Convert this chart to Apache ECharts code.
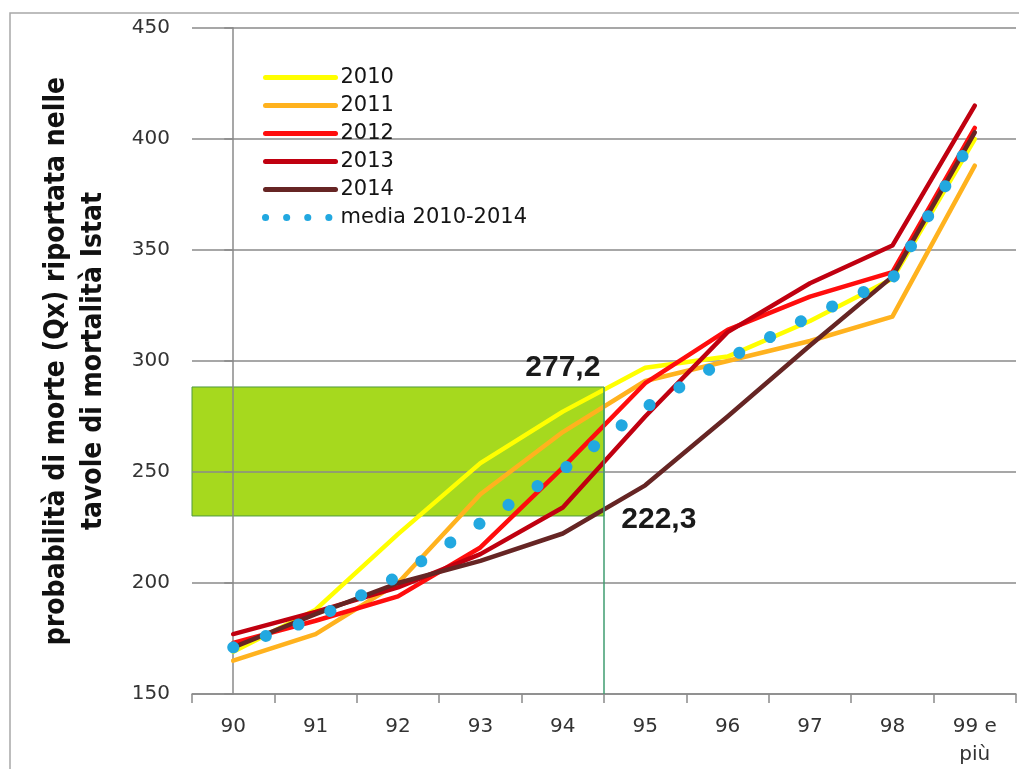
<!DOCTYPE html>
<html>
<head>
<meta charset="utf-8">
<script src="https://cdn.jsdelivr.net/npm/echarts@6/dist/echarts.min.js"></script>
<style>
  html, body { margin: 0; padding: 0; background: #ffffff; }
  #chart { width: 1019px; height: 769px; }
</style>
</head>
<body>
<div id="chart"></div>
<script>
// Età (classi) sull'asse orizzontale
const categories = ['90', '91', '92', '93', '94', '95', '96', '97', '98', '99 e\npiù'];

// Probabilità di morte Qx (per mille) dalle tavole Istat, per anno
const qx2010 = [169, 188, 222, 254, 277.2, 297, 302, 318, 337, 400];
const qx2011 = [165, 177, 200, 240, 268, 291, 300, 309, 320, 388];
const qx2012 = [173, 183, 194, 216, 252, 290, 314, 329, 340, 405];
const qx2013 = [177, 187, 198, 213, 234, 275, 313, 335, 352, 415];
const qx2014 = [171, 186, 200, 210, 222.3, 244, 275, 307, 338, 403];
const qxMedia = [171, 184, 203, 227, 251, 279, 301, 320, 337, 402];

// Fascia evidenziata (valori Qx) fino al confine fra 94 e 95 anni
const bandLow = 230.2;
const bandHigh = 288.3;
const bandEnd = 4.5;

const yMin = 150, yMax = 450, yStep = 50;

const fmt = v => String(v).replace('.', ',');
const labelIndex = 4; // età 94

function lineSeries(name, values, color, labelCfg) {
  return {
    name: name,
    type: 'line',
    symbol: 'none',
    showSymbol: true,
    z: 3,
    lineStyle: { color: color, width: 4.5, cap: 'round', join: 'round' },
    itemStyle: { color: color },
    emphasis: { disabled: true },
    data: values.map((v, i) => {
      if (labelCfg && i === labelIndex) {
        return {
          value: v,
          symbol: 'circle',
          symbolSize: 1,
          label: Object.assign({
            show: true,
            formatter: p => fmt(p.value),
            fontFamily: 'Liberation Sans, Arial, sans-serif',
            fontWeight: 'bold',
            fontSize: 30,
            lineHeight: 30,
            color: '#1a1a1a'
          }, labelCfg)
        };
      }
      return v;
    })
  };
}

const chart = echarts.init(document.getElementById('chart'), null, { renderer: 'canvas' });

const axisGray = '#8a8a8a';
const tickFont = { fontFamily: 'DejaVu Sans, Verdana, sans-serif', fontSize: 20, color: '#333333' };

const option = {
  animation: false,
  backgroundColor: '#ffffff',
  grid: { left: 192, right: 3, top: 28, bottom: 75, containLabel: false },
  graphic: [{
    type: 'rect',
    silent: true,
    z: -10,
    shape: { x: 10, y: 13, width: 1040, height: 800 },
    style: { fill: 'none', stroke: '#a8a8a8', lineWidth: 1.5 }
  }],
  legend: {
    orient: 'vertical',
    left: 262,
    top: 67,
    padding: 0,
    itemWidth: 70,
    itemHeight: 14,
    itemGap: 7,
    selectedMode: false,
    itemStyle: { opacity: 0 },
    textStyle: { fontFamily: 'DejaVu Sans, Verdana, sans-serif', fontSize: 21, lineHeight: 20, color: '#141414' },
    data: [
      { name: '2010', lineStyle: { width: 5 } },
      { name: '2011', lineStyle: { width: 5 } },
      { name: '2012', lineStyle: { width: 5 } },
      { name: '2013', lineStyle: { width: 5 } },
      { name: '2014', lineStyle: { width: 5 } },
      { name: 'media 2010-2014', lineStyle: { width: 7, type: [0.1, 21], cap: 'round' } }
    ]
  },
  xAxis: [{
    type: 'category',
    data: categories,
    boundaryGap: true,
    axisLine: { lineStyle: { color: axisGray, width: 1.5 } },
    axisTick: { show: true, length: 9, lineStyle: { color: axisGray, width: 1.5 } },
    axisLabel: Object.assign({ margin: 19, lineHeight: 28, verticalAlign: 'top', interval: 0 }, tickFont),
    splitLine: { show: false }
  }, {
    type: 'value',
    min: -0.5,
    max: 9.5,
    show: false
  }],
  yAxis: {
    type: 'value',
    min: yMin,
    max: yMax,
    interval: yStep,
    axisLine: { show: true, lineStyle: { color: axisGray, width: 1.5 } },
    axisTick: { show: true, length: 9, lineStyle: { color: axisGray, width: 1.5 } },
    axisLabel: Object.assign({ margin: 22 }, tickFont),
    splitLine: { show: true, lineStyle: { color: axisGray, width: 1.5 } },
    name: 'probabilità di morte (Qx) riportata nelle\ntavole di mortalità Istat',
    nameLocation: 'middle',
    nameRotate: 90,
    nameGap: 80,
    nameTextStyle: {
      fontFamily: 'Liberation Sans Narrow, DejaVu Sans Condensed, sans-serif',
      fontWeight: 'bold',
      fontSize: 28,
      lineHeight: 37,
      color: '#111111',
      align: 'center'
    }
  },
  series: [
    {
      name: 'fascia',
      type: 'line',
      xAxisIndex: 1,
      symbol: 'none',
      lineStyle: { opacity: 0 },
      data: [[bandEnd, bandHigh]],
      silent: true,
      markArea: {
        silent: true,
        z: -1,
        itemStyle: { color: '#a6d91e', borderColor: '#4f9a3f', borderWidth: 1 },
        data: [[{ coord: [-0.5, bandLow] }, { coord: [bandEnd, bandHigh] }]]
      },
      markLine: {
        silent: true,
        symbol: ['none', 'none'],
        label: { show: false },
        lineStyle: { color: '#3f9c70', width: 1.5, type: 'solid' },
        data: [[{ coord: [bandEnd, yMin] }, { coord: [bandEnd, bandHigh] }]]
      }
    },
    lineSeries('2010', qx2010, '#ffff00', { position: 'top', distance: 28 }),
    lineSeries('2011', qx2011, '#ffb21e'),
    lineSeries('2012', qx2012, '#ff0d0d'),
    lineSeries('2013', qx2013, '#c00010'),
    lineSeries('2014', qx2014, '#662524', { position: 'right', distance: 58, offset: [0, -14] }),
    {
      name: 'media 2010-2014',
      type: 'line',
      symbol: 'none',
      z: 4,
      lineStyle: { color: '#22a8e0', width: 12, type: [0.1, 34.5], cap: 'round' },
      itemStyle: { color: '#22a8e0' },
      emphasis: { disabled: true },
      data: qxMedia
    }
  ]
};

chart.setOption(option);
</script>
</body>
</html>
